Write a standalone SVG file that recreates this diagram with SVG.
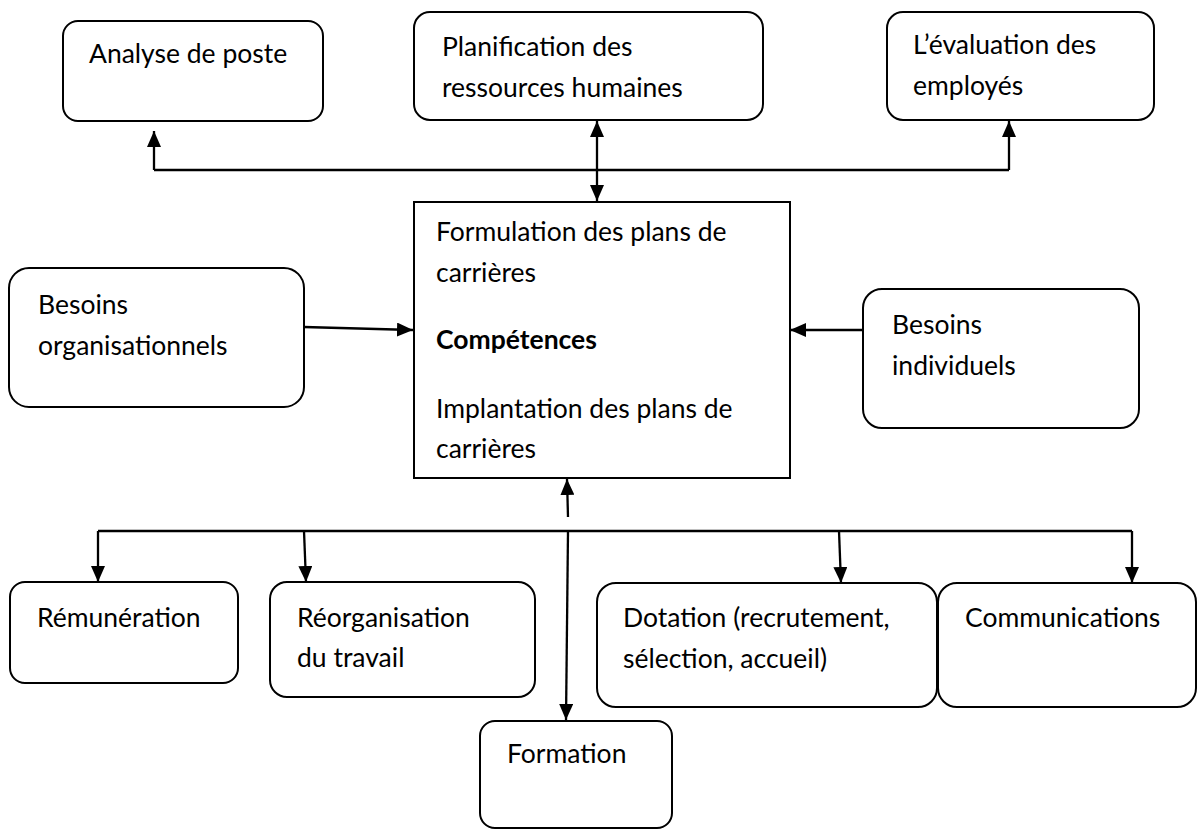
<svg xmlns="http://www.w3.org/2000/svg" width="1197" height="830" viewBox="0 0 1197 830">
  <style>
    .box { fill: #ffffff; stroke: #000000; stroke-width: 2; }
    .lbl { font-family: Lato, "Liberation Sans", sans-serif; font-size: 26.5px; fill: #000000; }
    .bold { font-weight: bold; }
    .wire { fill: none; stroke: #000000; stroke-width: 2.3; }
    .arrow { fill: none; stroke: #000000; stroke-width: 2.3; marker-end: url(#head); }
    .both { marker-start: url(#head); }
  </style>
  <defs>
    <marker id="head" markerUnits="userSpaceOnUse" markerWidth="16" markerHeight="14" refX="16" refY="7" orient="auto-start-reverse">
      <path d="M0,0 L16,7 L0,14 Z" fill="#000000"/>
    </marker>
  </defs>

  <rect width="1197" height="830" fill="#ffffff"/>

  <!-- connectors -->
  <g id="connectors">
    <!-- upper bus feeding the three top boxes -->
    <path class="wire" d="M154,170 H1009"/>
    <path class="arrow" d="M154,170 V131"/>
    <path class="arrow" d="M1009,170 V121"/>
    <path class="arrow both" d="M597,201 V121"/>
    <!-- side inputs to the central box -->
    <path class="arrow" d="M304,327 L413,330"/>
    <path class="arrow" d="M863,330 H790"/>
    <!-- lower bus -->
    <path class="arrow" d="M568,517 L567,479"/>
    <path class="wire" d="M98,531 H1132"/>
    <path class="arrow" d="M98,531 V582"/>
    <path class="arrow" d="M304,531 L306,582"/>
    <path class="arrow" d="M568,531 L566,720"/>
    <path class="arrow" d="M839,531 L841,583"/>
    <path class="arrow" d="M1132,531 V583"/>
  </g>

  <g id="analyse-poste">
    <rect class="box" x="63" y="21" width="260" height="100" rx="15"/>
    <text class="lbl" x="89" y="63">Analyse de poste</text>
  </g>

  <g id="planification-rh">
    <rect class="box" x="414" y="12" width="349" height="108" rx="16"/>
    <text class="lbl" x="442" y="56">Planification des</text>
    <text class="lbl" x="442" y="97">ressources humaines</text>
  </g>

  <g id="evaluation-employes">
    <rect class="box" x="887" y="12" width="267" height="108" rx="16"/>
    <text class="lbl" x="913" y="54">L’évaluation des</text>
    <text class="lbl" x="913" y="95">employés</text>
  </g>

  <g id="competences">
    <rect class="box" x="414" y="202" width="376" height="276" rx="0"/>
    <text class="lbl" x="436" y="241">Formulation des plans de</text>
    <text class="lbl" x="436" y="282">carrières</text>
    <text class="lbl bold" x="436" y="349">Compétences</text>
    <text class="lbl" x="436" y="418">Implantation des plans de</text>
    <text class="lbl" x="436" y="458">carrières</text>
  </g>

  <g id="besoins-organisationnels">
    <rect class="box" x="9" y="268" width="295" height="139" rx="20"/>
    <text class="lbl" x="38" y="314">Besoins</text>
    <text class="lbl" x="38" y="355">organisationnels</text>
  </g>

  <g id="besoins-individuels">
    <rect class="box" x="863" y="289" width="276" height="139" rx="19"/>
    <text class="lbl" x="892" y="334">Besoins</text>
    <text class="lbl" x="892" y="375">individuels</text>
  </g>

  <g id="remuneration">
    <rect class="box" x="10" y="582" width="228" height="101" rx="15"/>
    <text class="lbl" x="37" y="627">Rémunération</text>
  </g>

  <g id="reorganisation">
    <rect class="box" x="270" y="582" width="265" height="115" rx="17"/>
    <text class="lbl" x="297" y="627">Réorganisation</text>
    <text class="lbl" x="297" y="667">du travail</text>
  </g>

  <g id="formation">
    <rect class="box" x="480" y="721" width="192" height="107" rx="15"/>
    <text class="lbl" x="507" y="763">Formation</text>
  </g>

  <g id="dotation">
    <rect class="box" x="597" y="583" width="340" height="124" rx="19"/>
    <text class="lbl" x="623" y="627">Dotation (recrutement,</text>
    <text class="lbl" x="623" y="668">sélection, accueil)</text>
  </g>

  <g id="communications">
    <rect class="box" x="938" y="583" width="258" height="124" rx="19"/>
    <text class="lbl" x="965" y="627">Communications</text>
  </g>
</svg>
